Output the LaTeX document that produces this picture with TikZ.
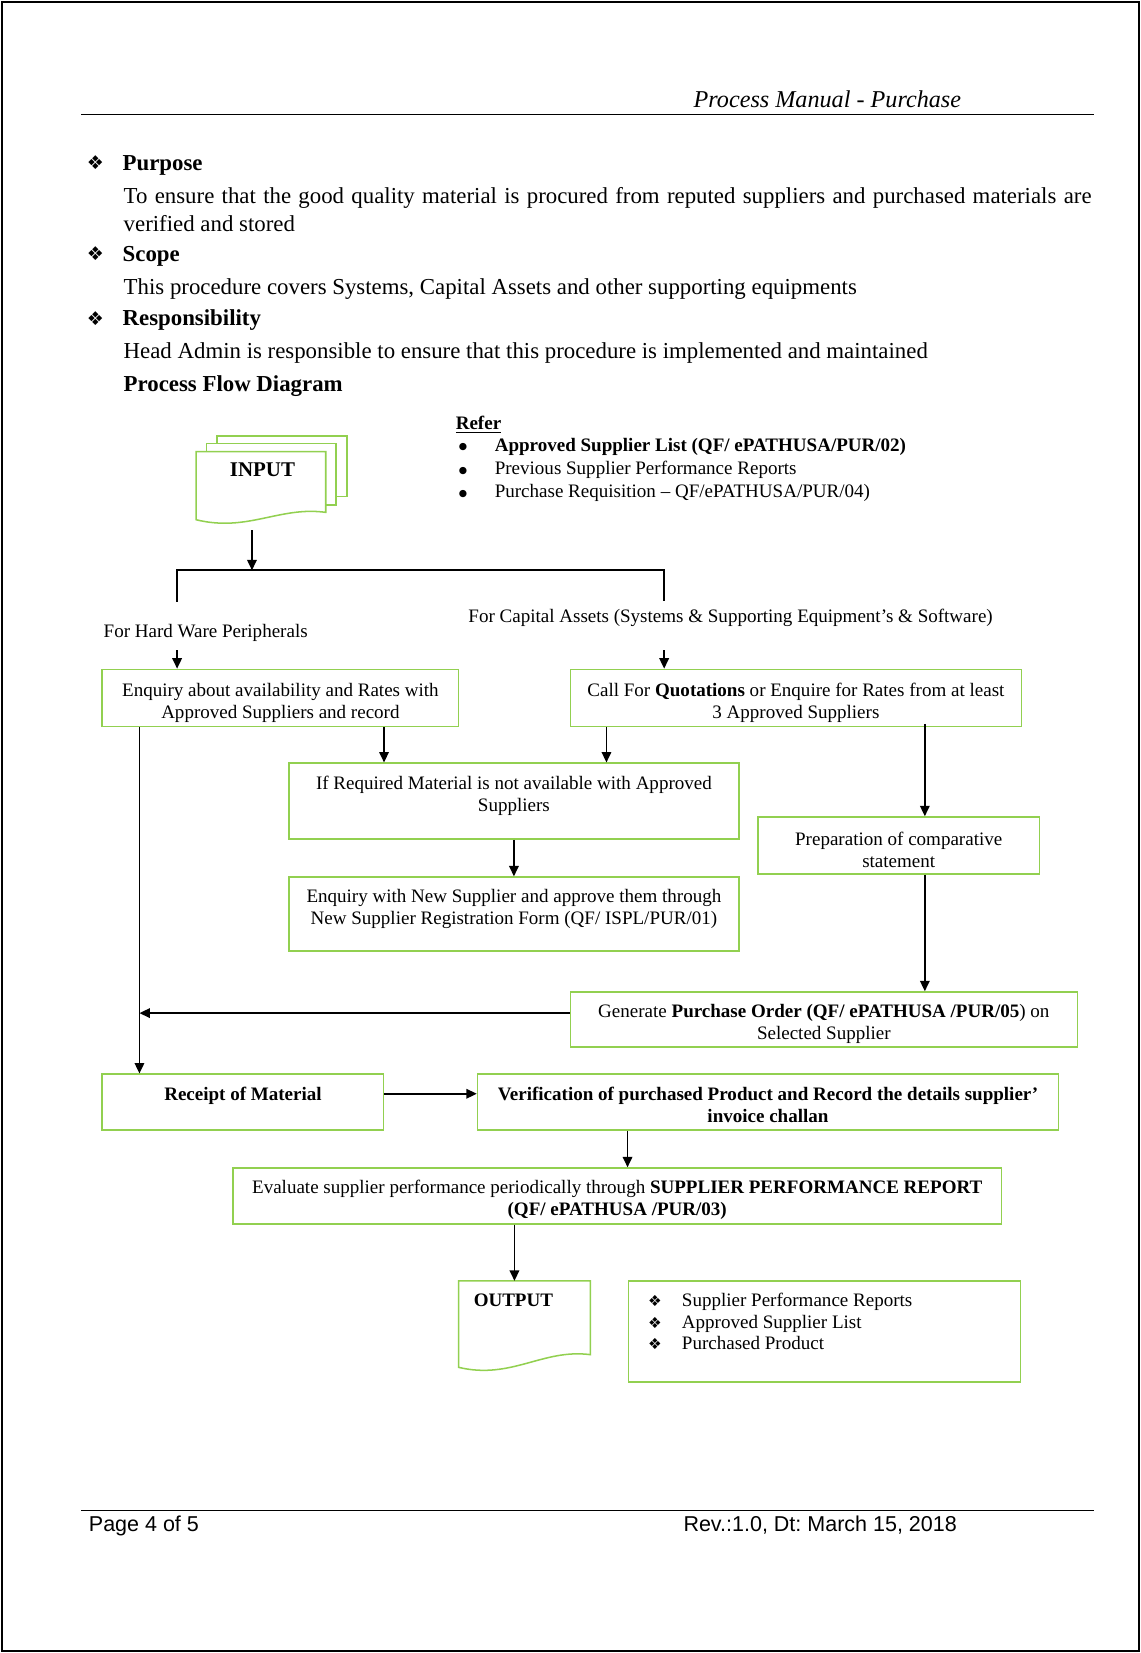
\documentclass[tikz,border=0pt]{standalone}
\usepackage{fontspec}
\setmainfont{Liberation Serif}
\newfontfamily\footfont{Liberation Sans}
\newfontfamily\dingfont{DejaVu Sans}
\usepackage{tikz}
\usetikzlibrary{arrows.meta,calc,positioning}
\definecolor{boxgreen}{RGB}{146,208,80}
\frenchspacing
\newlength\pxu
\setlength\pxu{0.554pt}
\newcommand\headitem[1]{\makebox[34\pxu][l]{\raisebox{0.3pt}{\dingfont\fontsize{10}{10}\selectfont ❖}}\textbf{#1}}
\newcommand\referitem[1]{\makebox[34\pxu][l]{\raisebox{0.9pt}{\dingfont\fontsize{5}{5}\selectfont ●}}#1}
\newcommand\outitem[1]{\hspace*{17\pxu}\makebox[32\pxu][l]{\dingfont\fontsize{8}{8}\selectfont ❖}#1}

\begin{document}
\begin{tikzpicture}[x=0.554pt,y=-0.554pt,
		>={Triangle[length=5.5pt,width=5pt]},
		body/.style={inner sep=0pt,font=\fontsize{12}{14}\selectfont},
		txt/.style={inner sep=0pt,font=\fontsize{10}{11.5}\selectfont},
		foot/.style={inner sep=0pt,font=\footfont\fontsize{11.3}{13}\selectfont},
		box/.style={draw=boxgreen,line width=0.8pt,inner sep=0pt,align=flush center,
			text height=7pt,font=\fontsize{10}{11.5}\selectfont},
		boxsize/.style 2 args={minimum width=#1*0.554pt,minimum height=#2*0.554pt},
		doc/.style={draw=boxgreen,line width=0.8pt,fill=white},
		arr/.style={->,line width=0.9pt},
		line/.style={line width=0.9pt}
	]
	\useasboundingbox (0,0) rectangle (1082,1568);
	\draw[line width=1.1pt] (1.5,1.5) rectangle (1080.5,1566.5);

	% header and footer
	\node[inner sep=0pt,anchor=east,font=\fontsize{12.7}{14}\selectfont\itshape] (title) at (912,94) {Process Manual - Purchase};
	\draw[line width=0.6pt] (77,109) -- (1038,109);
	\draw[line width=0.6pt] (77,1433) -- (1038,1433);
	\node[foot,anchor=west] (page) at (84,1447) {Page 4 of 5};
	\node[foot,anchor=west] (rev) at (648,1447) {Rev.:1.0, Dt: March 15, 2018};

	% text above the diagram
	\node[body,anchor=west] (purpose) at (82,157) {\headitem{Purpose}};
	\node[body,anchor=west] (purptxt) at (117,188) {\makebox[508.6pt][s]{To ensure that the good quality material is procured from reputed suppliers and purchased materials are}};
	\node[body,anchor=west] (purptxtb) at (117,212) {verified and stored};
	\node[body,anchor=west] (scope) at (82,243) {\headitem{Scope}};
	\node[body,anchor=west] (scopetxt) at (117,274) {This procedure covers Systems, Capital Assets and other supporting equipments};
	\node[body,anchor=west] (resp) at (82,304) {\headitem{Responsibility}};
	\node[body,anchor=west] (resptxt) at (117,335) {Head Admin is responsible to ensure that this procedure is implemented and maintained};
	\node[body,anchor=west] (pfd) at (117,366) {\textbf{Process Flow Diagram}};

	\node[txt,anchor=west] (refer) at (432,403) {\underline{\textbf{Refer}}};
	\node[txt,anchor=west] (refa) at (435,424) {\referitem{\textbf{Approved Supplier List (QF/ ePATHUSA/PUR/02)}}};
	\node[txt,anchor=west] (refb) at (435,446) {\referitem{Previous Supplier Performance Reports}};
	\node[txt,anchor=west] (refc) at (435,468) {\referitem{Purchase Requisition – QF/ePATHUSA/PUR/04)}};

	% input documents
	\draw[doc] (205.6,413.4) rectangle (329,471);
	\draw[doc] (196,420.5) rectangle (318.5,479);
	\draw[doc] (186,428.5) -- (309,428.5) -- (309,486) .. controls (265,480) and (235,505) .. (186,493) -- cycle;
	\node[inner sep=0pt,font=\fontsize{11}{13}\selectfont\bfseries] (input) at (249,446) {INPUT};

	\coordinate (inbot) at (239,503);
	\coordinate (brl) at (168,541);
	\coordinate (brr) at (630,541);
	\coordinate (brlend) at (168,571);
	\coordinate (brrend) at (630,570);
	\draw[arr] (inbot) -- (inbot |- brl);
	\draw[line] (brlend) -- (brl) -- (brr) -- (brrend);

	\node[txt,anchor=west] (hwlbl) at (98,600) {For Hard Ware Peripherals};
	\node[txt,anchor=west] (calbl) at (444,586) {For Capital Assets (Systems \& Supporting Equipment’s \& Software)};
	\coordinate (hwdrop) at (168,617);
	\coordinate (cadrop) at (630,617);

	% process boxes
	\node[box,boxsize={338}{54},text width=185pt,text depth=8.1pt] (enq) at (266,662) {Enquiry about availability and Rates with\\Approved Suppliers and record};
	\node[box,boxsize={428}{54},text width=234pt,text depth=8.1pt] (quot) at (755,662) {Call For \textbf{Quotations} or Enquire for Rates from at least\\3 Approved Suppliers};
	\node[box,boxsize={427}{72},text width=234pt,text depth=19.2pt] (ifreq) at (487.5,760) {If Required Material is not available with Approved\\Suppliers};
	\node[box,boxsize={427}{70},text width=234pt,text depth=19.2pt] (newsup) at (487.5,867) {Enquiry with New Supplier and approve them through\\New Supplier Registration Form (QF/ ISPL/PUR/01)};
	\node[box,boxsize={267}{54},text width=145pt,text depth=7pt] (prep) at (852.5,802) {Preparation of comparative\\statement};
	\node[box,boxsize={481}{52},text width=263pt,text depth=9.2pt] (gen) at (781.5,967) {Generate \textbf{Purchase Order (QF/ ePATHUSA /PUR/05})~on\\Selected Supplier};
	\node[box,boxsize={267}{53},text width=145pt,text depth=8.7pt,font=\fontsize{10}{11.5}\selectfont\bfseries] (rec) at (230.5,1045.5) {Receipt of Material};
	\node[box,boxsize={551}{53},text width=300pt,text depth=8.7pt,font=\fontsize{10}{11.5}\selectfont\bfseries] (ver) at (728.5,1045.5) {Verification of purchased Product and Record the details supplier’\\invoice challan};
	\node[box,boxsize={729}{53},text width=400pt,text depth=9.8pt] (eval) at (585.5,1134.5) {Evaluate supplier performance periodically through \textbf{SUPPLIER PERFORMANCE REPORT}\\\textbf{(QF/ ePATHUSA /PUR/03)}};

	% output
	\draw[doc] (435,1215) -- (560,1215) -- (560,1285) .. controls (515,1279) and (485,1309) .. (435,1297) -- cycle;
	\node[inner sep=0pt,font=\fontsize{10}{12}\selectfont\bfseries] (output) at (487,1233) {OUTPUT};
	\coordinate (outtop) at (488,1215);
	\node[box,boxsize={372}{96},text width=204pt,align=flush left,text depth=33.6pt] (outlist) at (782,1263) {\outitem{Supplier Performance Reports}\\\outitem{Approved Supplier List}\\\outitem{Purchased Product}};

	% connectors
	\draw[arr] (hwdrop) -- (hwdrop |- enq.north);
	\draw[arr] (cadrop) -- (cadrop |- quot.north);
	\draw[arr] ($(enq.south west)+(36,0)$) coordinate (ea) -- (ea |- rec.north);
	\draw[arr] ($(enq.south west)+(268,0)$) coordinate (eb) -- (eb |- ifreq.north);
	\draw[arr] ($(quot.south west)+(35,0)$) coordinate (qa) -- (qa |- ifreq.north);
	\draw[arr] ($(quot.south west)+(337,-3)$) coordinate (qb) -- (qb |- prep.north);
	\draw[arr] (ifreq.south) -- (newsup.north);
	\draw[arr] (qb |- prep.south) -- (qb |- gen.north);
	\draw[arr] ($(gen.west)+(0,-6)$) coordinate (ga) -- (ga -| ea);
	\draw[arr] ($(rec.east)+(0,-8)$) coordinate (ra) -- (ra -| ver.west);
	\draw[arr] ($(ver.south west)+(143,0)$) coordinate (va) -- (va |- eval.north);
	\draw[arr] (outtop |- eval.south) -- (outtop);
\end{tikzpicture}
\end{document}
